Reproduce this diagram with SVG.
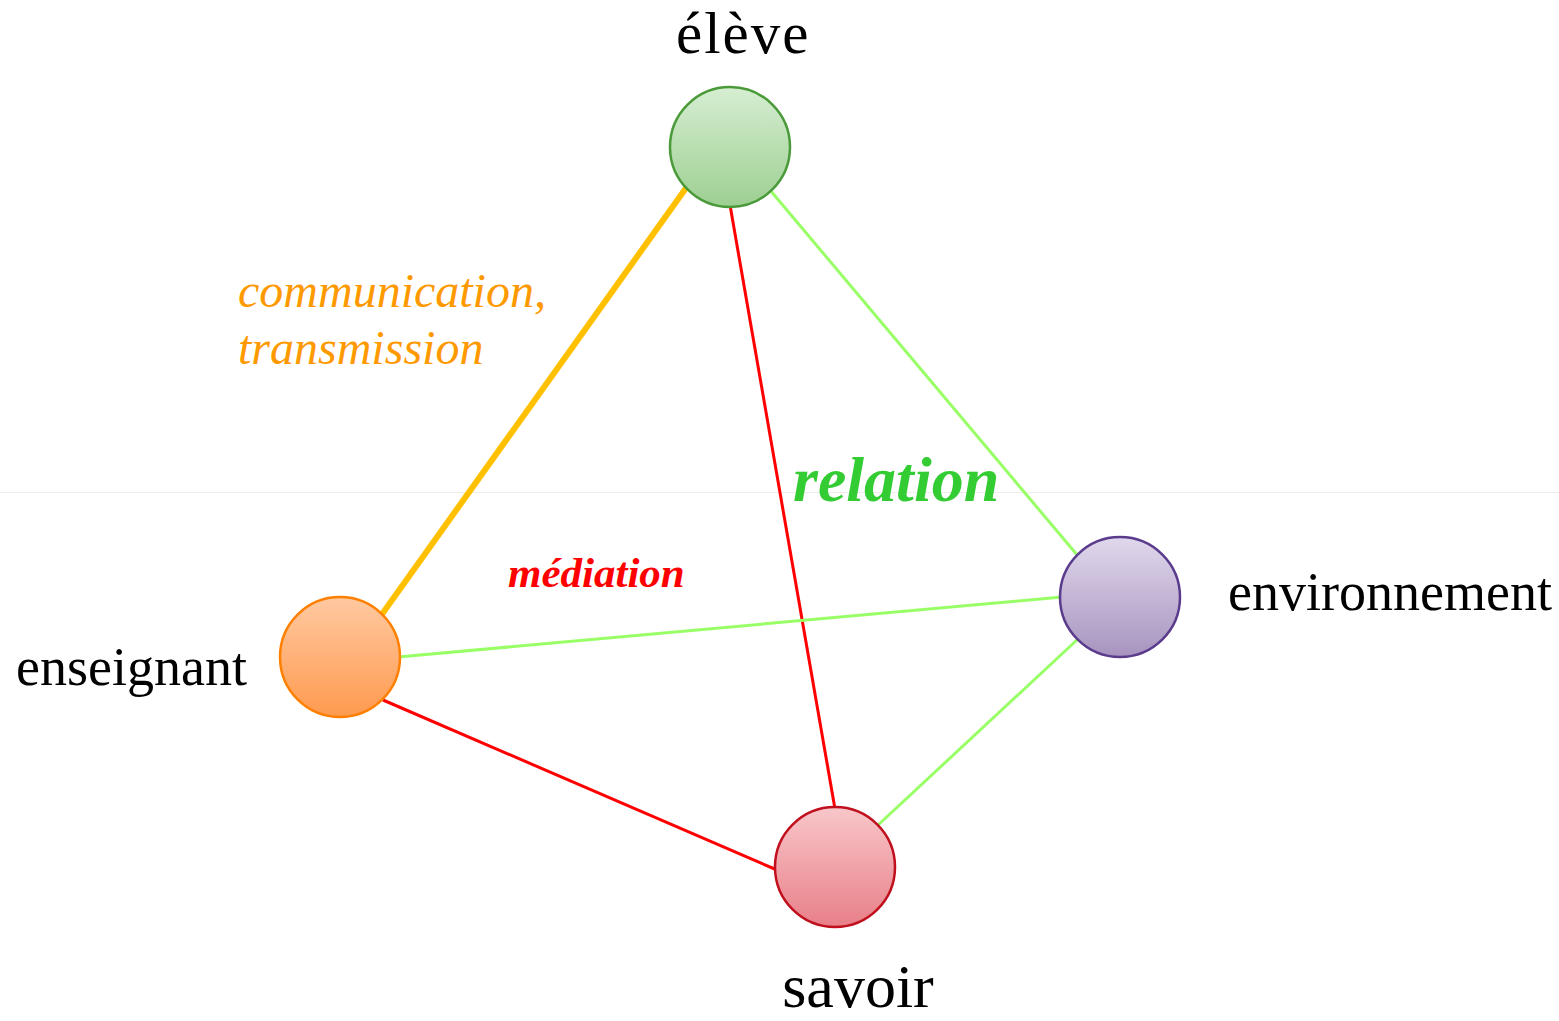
<svg xmlns="http://www.w3.org/2000/svg" width="1559" height="1021" viewBox="0 0 1559 1021">
<style>
.lbl{font-family:"Liberation Serif","Times New Roman",serif;fill:#000}
.n{stroke-width:2.5}
.e{fill:none;stroke-linecap:butt}
.g{stroke:#99ff66;stroke-width:3}
.r{stroke:#ff0000;stroke-width:3}
.o{stroke:#ffc000;stroke-width:6}
.it{font-family:"Liberation Serif","Times New Roman",serif;font-style:italic}
</style>
<defs>
<linearGradient id="gG" x1="0" y1="0" x2="0" y2="1"><stop offset="0" stop-color="#d6eed2"/><stop offset="1" stop-color="#9dcf91"/></linearGradient>
<linearGradient id="gO" x1="0" y1="0" x2="0" y2="1"><stop offset="0" stop-color="#ffc9a1"/><stop offset="1" stop-color="#ff9a4f"/></linearGradient>
<linearGradient id="gP" x1="0" y1="0" x2="0" y2="1"><stop offset="0" stop-color="#e0d8ec"/><stop offset="1" stop-color="#a794bf"/></linearGradient>
<linearGradient id="gR" x1="0" y1="0" x2="0" y2="1"><stop offset="0" stop-color="#f8c7ca"/><stop offset="1" stop-color="#e87f88"/></linearGradient>
</defs>
<rect width="1559" height="1021" fill="#fff"/>
<line x1="0" y1="492.5" x2="1559" y2="492.5" stroke="#eeeee6" stroke-width="1"/>
<g id="connectors">
<line class="e o" x1="686" y1="188" x2="380" y2="617"/>
<line class="e r" x1="730" y1="205" x2="835" y2="809"/>
<line class="e g" x1="770" y1="190" x2="1078" y2="556"/>
<line class="e g" x1="398" y1="657" x2="1062" y2="597"/>
<line class="e r" x1="383" y1="700" x2="777" y2="870"/>
<line class="e g" x1="1078" y1="639" x2="877" y2="826"/>
</g>
<g id="eleve">
<circle class="n" cx="730" cy="147" r="60" fill="url(#gG)" stroke="#4a9a3a"/>
<text class="lbl" x="676" y="53" font-size="59" letter-spacing="2">élève</text>
</g>
<g id="enseignant">
<circle class="n" cx="340" cy="657" r="60" fill="url(#gO)" stroke="#ff8000"/>
<text class="lbl" x="16" y="685" font-size="54">enseignant</text>
</g>
<g id="environnement">
<circle class="n" cx="1120" cy="597" r="60" fill="url(#gP)" stroke="#5b3b8c"/>
<text class="lbl" x="1228" y="610" font-size="54">environnement</text>
</g>
<g id="savoir">
<circle class="n" cx="835" cy="867" r="60" fill="url(#gR)" stroke="#c0101e"/>
<text class="lbl" x="858" y="1007" font-size="62" text-anchor="middle">savoir</text>
</g>
<g id="labels">
<text class="it" x="238" y="307" font-size="48" fill="#ff9900">communication,</text>
<text class="it" x="238" y="364" font-size="48" fill="#ff9900">transmission</text>
<text class="it" x="793" y="501" font-size="64" font-weight="bold" fill="#33cc33">relation</text>
<text class="it" x="508" y="587" font-size="43" font-weight="bold" fill="#ff0000">médiation</text>
</g>
</svg>
